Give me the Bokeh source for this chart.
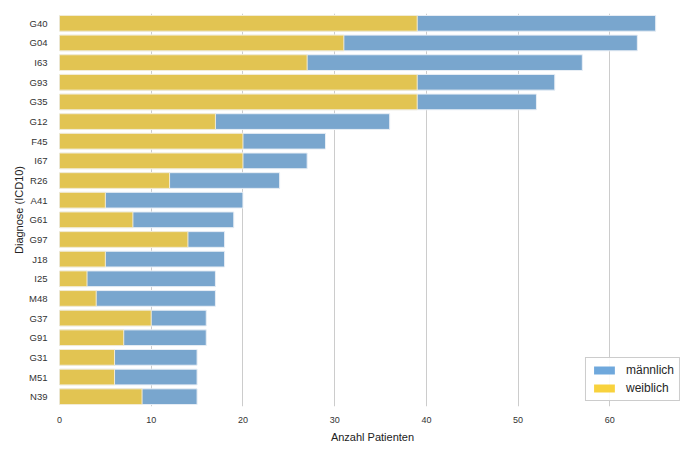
from bokeh.plotting import figure
from bokeh.models import ColumnDataSource, Legend, LegendItem, FactorRange
from bokeh.embed import file_html
from bokeh.resources import INLINE

diagnoses = ["G40", "G04", "I63", "G93", "G35", "G12", "F45", "I67", "R26", "A41",
             "G61", "G97", "J18", "I25", "M48", "G37", "G91", "G31", "M51", "N39"]
total = [65, 63, 57, 54, 52, 36, 29, 27, 24, 20, 19, 18, 18, 17, 17, 16, 16, 15, 15, 15]
weiblich = [39, 31, 27, 39, 39, 17, 20, 20, 12, 5, 8, 14, 5, 3, 4, 10, 7, 6, 6, 9]
x_ticks = [0, 10, 20, 30, 40, 50, 60]

BAR_BLUE = "#79a6ce"
BAR_YELLOW = "#e2c452"
LEG_BLUE = "#6fa8dc"
LEG_YELLOW = "#f8d23d"

src = ColumnDataSource(dict(diag=diagnoses, total=total, weiblich=weiblich))

p = figure(width=698, height=458, output_backend="svg", toolbar_location=None,
           y_range=FactorRange(factors=list(reversed(diagnoses)), range_padding=0),
           x_range=(0, 68.25),
           min_border_left=59, min_border_right=13, min_border_top=13, min_border_bottom=52)
p.y_range.factor_padding = 0

p.hbar(y="diag", left=0, right="total", height=0.8, source=src,
       fill_color=BAR_BLUE, line_color="#e8eef5", line_width=1)
p.hbar(y="diag", left=0, right="weiblich", height=0.8, source=src,
       fill_color=BAR_YELLOW, line_color="#f3ecd6", line_width=1)

# invisible zero-width bars that only carry the legend colours
dummy = ColumnDataSource(dict(y=[diagnoses[0]], r=[0]))
lm = p.hbar(y="y", left=0, right="r", height=0.8, source=dummy,
            fill_color=LEG_BLUE, line_color=None)
lw = p.hbar(y="y", left=0, right="r", height=0.8, source=dummy,
            fill_color=LEG_YELLOW, line_color=None)

legend = Legend(items=[LegendItem(label="männlich", renderers=[lm]),
                       LegendItem(label="weiblich", renderers=[lw])],
                location="bottom_right")
legend.label_text_font = "Liberation Sans"
legend.label_text_font_size = "12px"
legend.label_text_color = "#262626"
legend.glyph_width = 26
legend.glyph_height = 10
legend.label_height = 14
legend.label_standoff = 9
legend.spacing = 4
legend.padding = 5
legend.margin = 5
legend.border_line_color = "#cccccc"
legend.border_line_alpha = 1
legend.background_fill_alpha = 0.9
p.add_layout(legend)

p.background_fill_color = "white"
p.border_fill_color = "white"
p.outline_line_color = None

p.xgrid.grid_line_color = "#cccccc"
p.xgrid.grid_line_width = 1
p.ygrid.grid_line_color = None
p.xaxis.ticker = x_ticks

for ax in (p.xaxis, p.yaxis):
    ax.axis_line_color = None
    ax.major_tick_line_color = None
    ax.minor_tick_line_color = None
    ax.major_tick_out = 0
    ax.major_tick_in = 0
    ax.minor_tick_out = 0
    ax.major_label_text_font = "Liberation Sans"
    ax.major_label_text_color = "#333333"
    ax.axis_label_text_font = "Liberation Sans"
    ax.axis_label_text_font_style = "normal"
    ax.axis_label_text_color = "#222222"
    ax.axis_label_text_font_size = "11px"

p.xaxis.major_label_text_font_size = "9px"
p.yaxis.major_label_text_font_size = "9.5px"
p.xaxis.axis_label = "Anzahl Patienten"
p.yaxis.axis_label = "Diagnose (ICD10)"
p.xaxis.major_label_standoff = 10
p.yaxis.major_label_standoff = 12
p.xaxis.axis_label_standoff = 5
p.yaxis.axis_label_standoff = 1

open("out.html", "w").write(file_html(p, INLINE))
